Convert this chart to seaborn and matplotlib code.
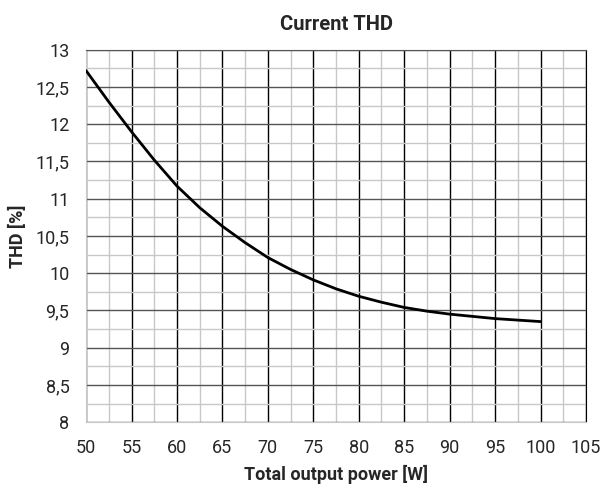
import numpy as np
import pandas as pd
import seaborn as sns
import matplotlib.pyplot as plt
from matplotlib.ticker import MultipleLocator, FuncFormatter

# Values
power_w = [50, 52.5, 55, 57.5, 60, 62.5, 65, 67.5, 70, 72.5, 75, 77.5, 80, 82.5, 85, 87.5, 90, 92.5, 95, 97.5, 100]
thd_pct = [12.72, 12.30, 11.90, 11.52, 11.17, 10.88, 10.63, 10.41, 10.21, 10.05, 9.91, 9.79, 9.69, 9.61, 9.54, 9.49, 9.45, 9.42, 9.39, 9.37, 9.35]

df = pd.DataFrame({"power": power_w, "thd": thd_pct})

sns.set_style("white")
plt.rcParams['font.family'] = ['Roboto', 'DejaVu Sans']

fig, ax = plt.subplots(figsize=(6.06, 4.88), dpi=100)
fig.subplots_adjust(left=0.142, right=0.967, top=0.898, bottom=0.135)

sns.lineplot(data=df, x="power", y="thd", color="black", linewidth=2, ax=ax, zorder=5)

ax.set_xlim(50, 105)
ax.set_ylim(8, 13)
ax.xaxis.set_major_locator(MultipleLocator(5))
ax.xaxis.set_minor_locator(MultipleLocator(2.5))
ax.yaxis.set_major_locator(MultipleLocator(0.5))
ax.yaxis.set_minor_locator(MultipleLocator(0.25))
ax.yaxis.set_major_formatter(FuncFormatter(lambda v, p: f"{v:g}".replace(".", ",")))

ax.grid(True, which="minor", color="#c8c8c8", linewidth=1)
ax.grid(True, which="major", axis="x", color="black", linewidth=1)
ax.grid(True, which="major", axis="y", color="#555555", linewidth=1)
ax.set_axisbelow(True)
ax.tick_params(which="both", length=0, labelsize=13)
ax.tick_params(axis="x", pad=12)
ax.tick_params(axis="y", pad=12)

for side in ["left", "bottom"]:
    ax.spines[side].set_color("#c8c8c8")
ax.spines["top"].set_color("#555555")
ax.spines["right"].set_color("black")

ax.set_title("Current THD", fontsize=14.5, fontweight="bold", pad=14)
ax.set_xlabel("Total output power [W]", fontsize=13, fontweight="bold", labelpad=6)
ax.set_ylabel("THD [%]", fontsize=13, fontweight="bold", labelpad=6)

plt.savefig("out.png", dpi=100)
